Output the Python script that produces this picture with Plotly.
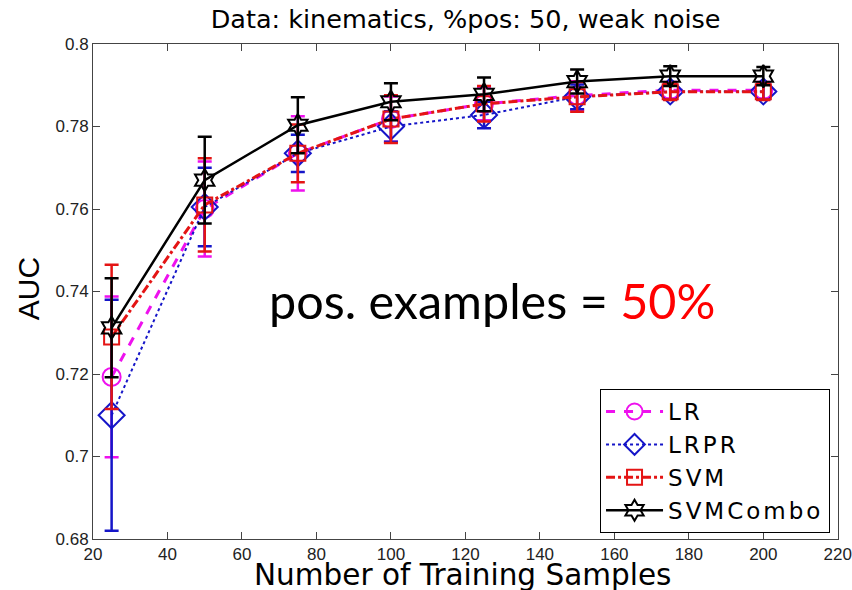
import plotly.graph_objects as go

# ---- data ----
samples = [25, 50, 75, 100, 125, 150, 175, 200]

lr_auc = [0.7193, 0.7600, 0.7735, 0.7818, 0.7855, 0.7875, 0.7888, 0.7888]
lr_err = [0.0195, 0.0115, 0.0090, 0.0055, 0.0040, 0.0035, 0.0020, 0.0020]

lrpr_auc = [0.7100, 0.7605, 0.7735, 0.7800, 0.7828, 0.7872, 0.7885, 0.7885]
lrpr_err = [0.0280, 0.0095, 0.0045, 0.0037, 0.0032, 0.0030, 0.0020, 0.0020]

svm_auc = [0.7290, 0.7610, 0.7735, 0.7818, 0.7855, 0.7872, 0.7884, 0.7884]
svm_err = [0.0175, 0.0113, 0.0070, 0.0058, 0.0043, 0.0036, 0.0020, 0.0020]

combo_auc = [0.7312, 0.7670, 0.7803, 0.7860, 0.7878, 0.7909, 0.7922, 0.7922]
combo_err = [0.0120, 0.0105, 0.0068, 0.0045, 0.0041, 0.0029, 0.0024, 0.0022]

series_names = ["LR", "LRPR", "SVM", "SVMCombo"]
x_ticks = [20, 40, 60, 80, 100, 120, 140, 160, 180, 200, 220]
y_ticks = [0.68, 0.70, 0.72, 0.74, 0.76, 0.78, 0.80]
y_tick_labels = ["0.68", "0.7", "0.72", "0.74", "0.76", "0.78", "0.8"]

title_text = "Data: kinematics, %pos: 50, weak noise"
x_title = "Number of Training Samples"
y_title = "AUC"
note_black = "pos. examples = "
note_red = "50%"

# ---- styles ----
styles = [
    dict(color="#ee11ee", dash="dash", width=3, symbol="circle-open", size=18),
    dict(color="#1515c8", dash="dot", width=2, symbol="diamond-open", size=20),
    dict(color="#e41414", dash="dashdot", width=3, symbol="square-open", size=15),
    dict(color="#000000", dash="solid", width=2.5, symbol="hexagram-open", size=17),
]
values = [lr_auc, lrpr_auc, svm_auc, combo_auc]
errors = [lr_err, lrpr_err, svm_err, combo_err]

fig = go.Figure()
for name, vals, errs, st in zip(series_names, values, errors, styles):
    fig.add_trace(go.Scatter(
        x=samples, y=vals, mode="lines+markers",
        name='<span style="letter-spacing:3px">' + name + "</span>",
        line=dict(color=st["color"], dash=st["dash"], width=st["width"]),
        marker=dict(symbol=st["symbol"], size=st["size"], color=st["color"],
                    line=dict(width=2, color=st["color"])),
        error_y=dict(type="data", array=errs, visible=True, color=st["color"],
                     thickness=2.5, width=7),
    ))

arial = "Liberation Sans, Arial, sans-serif"
wide = "DejaVu Sans, Verdana, sans-serif"

W, H = 852, 590
fig.update_layout(
    width=W, height=H,
    margin=dict(l=93, r=14, t=44, b=51, autoexpand=False),
    paper_bgcolor="white", plot_bgcolor="white",
    font=dict(family=arial, color="#000000"),
    title=dict(text=title_text, x=0.5465, xanchor="center", xref="container",
               y=1 - 19 / H, yanchor="middle", yref="container",
               font=dict(size=25.5, family=wide, color="#000000")),
    showlegend=True,
    legend=dict(x=0.9893, y=0.012, xanchor="right", yanchor="bottom",
                bgcolor="white", bordercolor="#000000", borderwidth=1,
                font=dict(size=23, family=wide, color="#000000"),
                itemwidth=57, tracegroupgap=0),
)

fig.update_xaxes(
    range=[20, 220.05], tickmode="array", tickvals=x_ticks,
    ticks="inside", ticklen=7, tickcolor="#444", showline=True,
    linecolor="#444", linewidth=1, mirror="ticks", showgrid=False, zeroline=False,
    tickfont=dict(size=17, color="#222"), automargin=False,
    ticklabeloverflow="allow",
)
fig.update_yaxes(
    range=[0.68, 0.80], tickmode="array", tickvals=y_ticks, ticktext=y_tick_labels,
    ticks="inside", ticklen=7, tickcolor="#444", showline=True,
    linecolor="#444", linewidth=1, mirror="ticks", showgrid=False, zeroline=False,
    tickfont=dict(size=17, color="#222"), automargin=False,
)

# axis titles
fig.add_annotation(
    x=0.4966, y=-0.0737, xref="paper", yref="paper", showarrow=False,
    xanchor="center", yanchor="middle", text=x_title,
    font=dict(size=29.5, family=wide, color="#000000"),
)
fig.add_annotation(
    x=-0.087, y=0.505, xref="paper", yref="paper", showarrow=False,
    xanchor="center", yanchor="middle", text=y_title, textangle=-90,
    font=dict(size=30, family=arial, color="#000000"),
)

fig.add_annotation(
    x=127.1, y=0.7379, xref="x", yref="y", showarrow=False,
    xanchor="center", yanchor="middle",
    text=note_black + '<span style="color:#ff0000">' + note_red + "</span>",
    font=dict(family="Lato, Carlito, Calibri, sans-serif", size=48.5, color="#000000"),
)

fig.write_html("out.html",
               config={"displayModeBar": False},
               post_script="document.body.style.margin='0';"
                           "document.body.style.overflow='hidden';")
